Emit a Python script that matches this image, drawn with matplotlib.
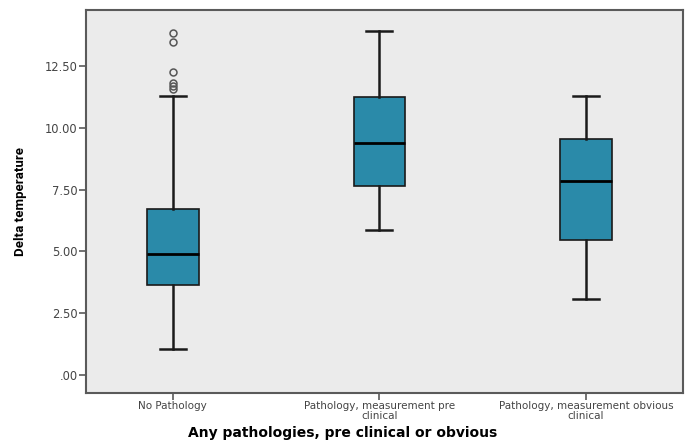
import matplotlib

matplotlib.use("Agg")
import matplotlib.pyplot as plt
from matplotlib.ticker import FuncFormatter

# values
categories = [
    "No Pathology",
    "Pathology, measurement pre\nclinical",
    "Pathology, measurement obvious\nclinical",
]
whisker_low = [1.05, 5.87, 3.06]
q1 = [3.64, 7.66, 5.48]
median = [4.90, 9.40, 7.83]
q3 = [6.72, 11.23, 9.55]
whisker_high = [11.27, 13.94, 11.30]
outliers = [[11.56, 11.70, 11.80, 12.28, 13.47, 13.83], [], []]
y_ticks = [0.0, 2.5, 5.0, 7.5, 10.0, 12.5]

box_color = "#2a8aa9"
edge_color = "#1a1a1a"
frame_color = "#5a5a5a"

stats = []
for i, name in enumerate(categories):
    stats.append(
        {
            "label": name,
            "whislo": whisker_low[i],
            "q1": q1[i],
            "med": median[i],
            "q3": q3[i],
            "whishi": whisker_high[i],
            "fliers": outliers[i],
        }
    )

fig = plt.figure(figsize=(6.97, 4.45), dpi=100)
fig.patch.set_facecolor("white")
axis = fig.add_axes([0.1234, 0.1169, 0.8566, 0.8606])
axis.set_facecolor("#ebebeb")

positions = [1, 2, 3]
axis.bxp(
    stats,
    positions=positions,
    widths=0.25,
    capwidths=0.125,
    patch_artist=True,
    boxprops=dict(facecolor=box_color, edgecolor=edge_color, linewidth=1.2),
    medianprops=dict(color="black", linewidth=2.0),
    whiskerprops=dict(color=edge_color, linewidth=1.8),
    capprops=dict(color=edge_color, linewidth=1.8),
    flierprops=dict(
        marker="o",
        markerfacecolor="none",
        markeredgecolor="#555555",
        markersize=5,
        markeredgewidth=1.1,
    ),
)

axis.set_xlim(0.58, 3.47)
axis.set_ylim(-0.73, 14.77)
axis.set_yticks(y_ticks)
axis.yaxis.set_major_formatter(
    FuncFormatter(lambda v, pos: f"{v:.2f}".lstrip("0") if v < 1 else f"{v:.2f}")
)
axis.set_xticks(positions)
axis.set_xticklabels(categories, linespacing=0.9)

for spine in axis.spines.values():
    spine.set_color(frame_color)
    spine.set_linewidth(1.5)

axis.tick_params(
    axis="both",
    direction="out",
    length=5,
    width=1.2,
    color=frame_color,
    labelcolor="#444444",
    labelsize=7.5,
)
axis.tick_params(axis="x", pad=1)
axis.tick_params(axis="y", pad=1, labelsize=8.3)

axis.set_ylabel(
    "Delta temperature",
    family=["Roboto", "DejaVu Sans"],
    fontweight="bold",
    fontsize=9.5,
)
axis.yaxis.set_label_coords(-0.098, 0.5)
axis.set_xlabel(
    "Any pathologies, pre clinical or obvious",
    fontweight="bold",
    fontsize=10,
)
axis.xaxis.set_label_coords(0.43, -0.085)

fig.savefig("out.png", dpi=100, facecolor=fig.get_facecolor())
plt.close(fig)
